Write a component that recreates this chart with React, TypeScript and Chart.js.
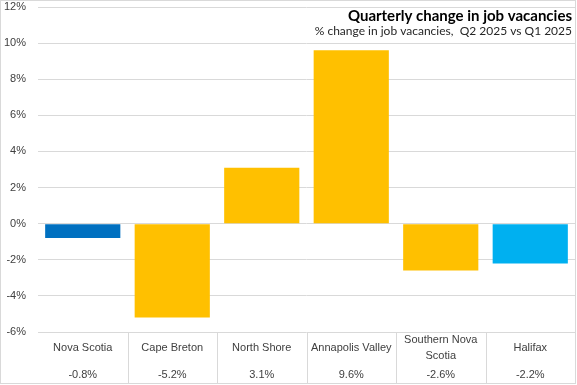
import React, { useEffect, useRef } from "react";
import { Chart, registerables } from "chart.js";

Chart.register(...registerables);

const categories: string[] = ["Nova Scotia", "Cape Breton", "North Shore", "Annapolis Valley", "Southern Nova Scotia", "Halifax"];
const categoryLines: string[][] = [["Nova Scotia"], ["Cape Breton"], ["North Shore"], ["Annapolis Valley"], ["Southern Nova", "Scotia"], ["Halifax"]];
const values: number[] = [-0.8, -5.2, 3.1, 9.6, -2.6, -2.2];
const barColors: string[] = ["#0070C0", "#FFC000", "#FFC000", "#FFC000", "#FFC000", "#00B0F0"];
const yMin = -6;
const yMax = 12;
const yStep = 2;
const titleText = "Quarterly change in job vacancies";
const subtitleText = "% change in job vacancies,  Q2 2025 vs Q1 2025";

const W = 577;
const H = 385;
const GRID = "#d9d9d9";
const TEXT = "#404040";
const FONT = "'Liberation Sans', Arial, sans-serif";
const TITLE_FONT = "Lato, 'Open Sans', sans-serif";

const overlayPlugin = {
  id: "overlay",
  afterDraw(chart: any) {
    const ctx = chart.ctx as CanvasRenderingContext2D;
    const xs = chart.scales.x;
    const area = chart.chartArea;
    const n = categories.length;
    const cw = (area.right - area.left) / n;
    ctx.save();
    // table lines
    ctx.strokeStyle = GRID;
    ctx.lineWidth = 1;
    for (let i = 1; i < n; i++) {
      const bx = Math.round(xs.getPixelForValue(i) - cw / 2) + 0.5;
      ctx.beginPath();
      ctx.moveTo(bx, area.bottom);
      ctx.lineTo(bx, H - 2);
      ctx.stroke();
    }
    // outer border
    ctx.strokeRect(0.5, 0.5, W - 2, H - 2);
    // category labels
    ctx.fillStyle = TEXT;
    ctx.font = `11px ${FONT}`;
    ctx.textAlign = "center";
    ctx.textBaseline = "middle";
    for (let i = 0; i < n; i++) {
      const cx = xs.getPixelForValue(i);
      const lines = categoryLines[i];
      const lh = 16;
      const mid = 348;
      const start = mid - ((lines.length - 1) * lh) / 2;
      lines.forEach((ln, j) => ctx.fillText(ln, cx, start + j * lh));
      ctx.fillText(values[i].toFixed(1) + "%", cx, 375);
    }
    // title
    ctx.textAlign = "right";
    ctx.fillStyle = "#000000";
    ctx.font = `bold 15px ${TITLE_FONT}`;
    ctx.fillText(titleText, 572, 16);
    ctx.fillStyle = "#262626";
    ctx.font = `12px ${TITLE_FONT}`;
    ctx.fillText(subtitleText, 572, 31);
    ctx.restore();
  },
};

export default function App() {
  const ref = useRef<HTMLCanvasElement | null>(null);
  useEffect(() => {
    document.body.style.margin = "0";
    const canvas = ref.current;
    if (!canvas) return;
    const chart = new Chart(canvas, {
      type: "bar",
      data: {
        labels: categories,
        datasets: [
          {
            data: values,
            backgroundColor: barColors,
            borderWidth: 0,
            barPercentage: 0.84,
            categoryPercentage: 1,
          },
        ],
      },
      options: {
        responsive: false,
        animation: false,
        devicePixelRatio: 1,
        layout: { padding: { top: 7, bottom: 53, left: 0, right: 2 } },
        plugins: {
          legend: { display: false },
          tooltip: { enabled: false },
          title: { display: false },
        },
        scales: {
          x: {
            display: false,
          },
          y: {
            min: yMin,
            max: yMax,
            afterFit(scale: any) {
              scale.width = 38;
              scale.paddingTop = 0;
              scale.paddingBottom = 0;
            },
            ticks: {
              stepSize: yStep,
              padding: 12,
              color: TEXT,
              font: { size: 11, family: FONT },
              callback: (v: any) => `${v}%`,
            },
            grid: { color: GRID, drawTicks: false, lineWidth: 1 },
            border: { display: false },
          },
        },
      },
      plugins: [overlayPlugin],
    });
    return () => chart.destroy();
  }, []);
  return (
    <div style={{ width: W, height: H }}>
      <canvas ref={ref} width={W} height={H} style={{ display: "block" }} />
    </div>
  );
}
